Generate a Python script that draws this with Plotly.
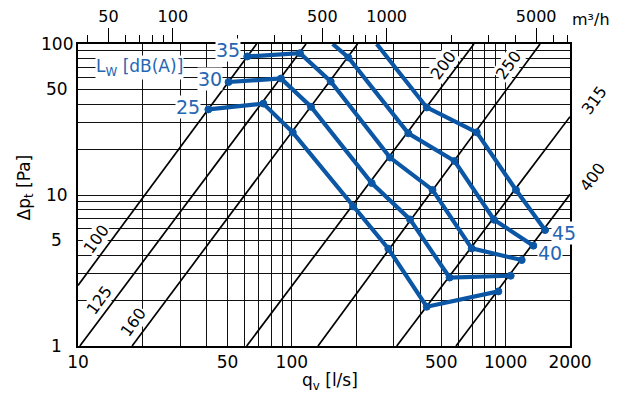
import math
import plotly.graph_objects as go

# ---------------- data ----------------
# grid / tick values (bottom axis q_v in l/s, left axis dp_t in Pa)
x_grid = [10, 20, 30, 40, 50, 60, 70, 80, 90, 100, 200, 300, 400, 500, 600, 700, 800, 900, 1000, 2000]
x_labels = [10, 50, 100, 500, 1000, 2000]
y_grid = [1, 2, 3, 4, 5, 6, 7, 8, 9, 10, 20, 30, 40, 50, 60, 70, 80, 90, 100]
y_labels = [1, 5, 10, 50, 100]
# top axis (m3/h)
top_major = [50, 100, 500, 1000, 5000]
top_minor = [40, 60, 70, 80, 90, 200, 300, 400, 600, 700, 800, 900, 2000, 3000, 4000, 6000, 7000]

# duct diameter lines: endpoints (q [l/s], dp [Pa])
duct_d = [100, 125, 160, 200, 250, 315, 400]
duct_q1 = [10, 10.2, 17.9, 61.5, 132.6, 309.5, 586]
duct_p1 = [2.52, 1, 1, 1, 1, 1, 1]
duct_q2 = [68.4, 116.5, 203, 711, 1449, 2000, 2000]
duct_p2 = [100, 100, 100, 100, 100, 33, 10.1]

# sound power level curves Lw [dB(A)]
lw_levels = [25, 30, 35, 40, 45]
q25 = [40.7, 73.6, 101, 193.3, 282.8, 427.6, 924.6]
p25 = [36.9, 40.3, 26.0, 8.41, 4.41, 1.82, 2.30]
q30 = [50.6, 89.0, 122.9, 236.4, 357.2, 546.6, 1056]
p30 = [56.0, 59.1, 38.4, 12.0, 6.89, 2.84, 2.92]
q35 = [61.9, 109.2, 152.0, 288.0, 455.0, 694, 1189]
p35 = [82.7, 86.9, 56.5, 17.7, 10.8, 4.43, 3.71]
q40 = [155.3, 183.8, 350.7, 576.8, 882.6, 1348]
p40 = [100, 81.4, 25.6, 16.8, 6.86, 4.62]
q45 = [249.5, 427.6, 732.5, 1118, 1529]
p45 = [100, 38.0, 26.0, 10.8, 5.86]

LPS_TO_M3H = 3.6

BLUE = "#0b57a5"
BLUE_TXT = "#2466b3"
FONT = "DejaVu Sans"

fig = go.Figure()

# duct lines
for d, a, b, c, e in zip(duct_d, duct_q1, duct_p1, duct_q2, duct_p2):
    fig.add_trace(go.Scatter(x=[a, c], y=[b, e], mode="lines",
                             line=dict(color="black", width=1.7),
                             hoverinfo="skip", showlegend=False))

curves = [(q25, p25), (q30, p30), (q35, p35), (q40, p40), (q45, p45)]
for (qs, ps) in curves:
    sizes = [0 if p >= 100 else 7 for p in ps]
    fig.add_trace(go.Scatter(x=qs, y=ps, mode="lines+markers",
                             line=dict(color=BLUE, width=4.2),
                             marker=dict(color=BLUE, size=sizes, opacity=1,
                                         line=dict(color=BLUE, width=1)),
                             showlegend=False))

# invisible trace for top axis
fig.add_trace(go.Scatter(x=[10 * LPS_TO_M3H, 2000 * LPS_TO_M3H], y=[1, 1], xaxis="x2",
                         mode="markers", marker=dict(opacity=0), showlegend=False,
                         hoverinfo="skip"))

ann = []
# curve labels
lab_start = [(q25, p25, 25, -7, 2), (q30, p30, 30, -6, 3), (q35, p35, 35, -6, 6)]
for qs, ps, lv, xs, ys in lab_start:
    ann.append(dict(x=math.log10(qs[0]), y=math.log10(ps[0]), xref="x", yref="y",
                    text=str(lv), showarrow=False, xanchor="right", yanchor="middle",
                    xshift=xs, yshift=ys, bgcolor="white", borderpad=0,
                    font=dict(family=FONT, size=19, color=BLUE_TXT)))
lab_end = [(q40, p40, 40, 4, -7), (q45, p45, 45, 6, -3)]
for qs, ps, lv, xs, ys in lab_end:
    ann.append(dict(x=math.log10(qs[-1]), y=math.log10(ps[-1]), xref="x", yref="y",
                    text=str(lv), showarrow=False, xanchor="left", yanchor="middle",
                    xshift=xs, yshift=ys, bgcolor="white", borderpad=0,
                    font=dict(family=FONT, size=19, color=BLUE_TXT)))

ann.append(dict(x=0.126, y=0.922, xref="paper", yref="paper", xanchor="center", yanchor="middle",
                text="L<sub>W</sub> [dB(A)]", showarrow=False, bgcolor="white", borderpad=0,
                font=dict(family=FONT, size=17, color=BLUE_TXT)))

# diameter labels (paper positions)
duct_lab_x = [0.0386, 0.0427, 0.1118, 0.7419, 0.876, 1.0488, 1.0467]
duct_lab_y = [0.3547, 0.1512, 0.0784, 0.9289, 0.9322, 0.813, 0.5616]
for d, lx, ly in zip(duct_d, duct_lab_x, duct_lab_y):
    ann.append(dict(x=lx, y=ly, xref="paper", yref="paper", text=str(d), showarrow=False,
                    xanchor="center", yanchor="middle",
                    textangle=-54, bgcolor="white", borderpad=0,
                    font=dict(family=FONT, size=16, color="black")))

# y tick labels (centered)
for v in y_labels:
    ann.append(dict(x=-0.0427, y=math.log10(v), xref="paper", yref="y", text=str(v),
                    showarrow=False, xanchor="center", yanchor="middle",
                    font=dict(family=FONT, size=17, color="black")))

# axis titles
ann.append(dict(x=0.512, y=-0.117, xref="paper", yref="paper", text="q<sub>v</sub> [l/s]",
                xanchor="center", yanchor="middle",
                showarrow=False, font=dict(family=FONT, size=17, color="black")))
ann.append(dict(x=-0.1077, y=0.525, xref="paper", yref="paper", text="Δp<sub>t</sub> [Pa]",
                xanchor="center", yanchor="middle",
                textangle=-90, showarrow=False, font=dict(family=FONT, size=17, color="black")))
ann.append(dict(x=1.0427, y=1.081, xref="paper", yref="paper", text="m³/h",
                xanchor="center", yanchor="middle",
                showarrow=False, font=dict(family=FONT, size=16, color="black")))

x_text = [str(v) if v in x_labels else "" for v in x_grid]

fig.update_layout(
    width=630, height=394,
    margin=dict(l=70, r=68, t=36, b=56, autoexpand=False),
    paper_bgcolor="white", plot_bgcolor="white",
    font=dict(family=FONT, size=17, color="black"),
    showlegend=False,
    annotations=ann,
    xaxis=dict(type="log", range=[1, math.log10(2000)], automargin=False,
               tickmode="array", tickvals=x_grid, ticktext=x_text,
               ticks="", showgrid=True, gridcolor="#111", gridwidth=1,
               showline=True, linecolor="black", linewidth=1.8, mirror=True,
               zeroline=False, tickfont=dict(family=FONT, size=17)),
    xaxis2=dict(type="log", range=[math.log10(10 * LPS_TO_M3H), math.log10(2000 * LPS_TO_M3H)],
                overlaying="x", side="top", anchor="y", automargin=False,
                tickmode="array", tickvals=top_major, ticktext=[str(v) for v in top_major],
                ticks="outside", ticklen=15, tickwidth=1, tickcolor="black",
                showgrid=False, showline=False, zeroline=False,
                minor=dict(tickmode="array", tickvals=top_minor, ticks="outside",
                           ticklen=8, tickwidth=1, tickcolor="black", showgrid=False),
                tickfont=dict(family=FONT, size=16)),
    yaxis=dict(type="log", range=[0, 2], automargin=False,
               tickmode="array", tickvals=y_grid, showticklabels=False,
               ticks="", showgrid=True, gridcolor="#111", gridwidth=1,
               showline=True, linecolor="black", linewidth=1.8, mirror=True,
               zeroline=False),
)

fig.write_html("out.html")
